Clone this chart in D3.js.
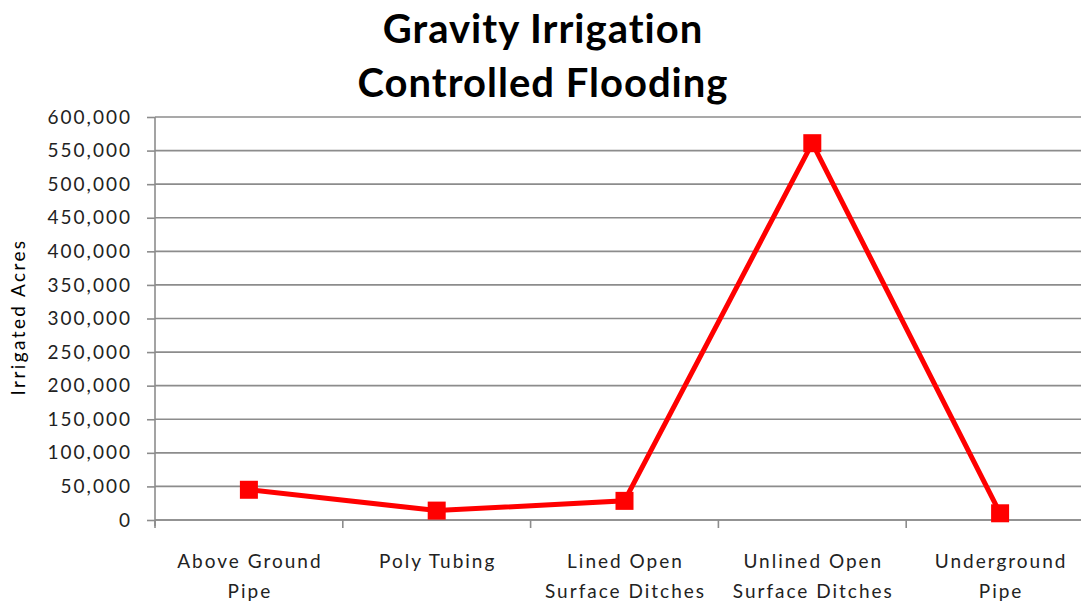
<!DOCTYPE html>
<html><head><meta charset="utf-8">
<script src="https://cdn.jsdelivr.net/npm/d3@7"></script>
<style>body{margin:0;background:#fff}svg{display:block}</style>
</head><body>
<svg id="c" width="1081" height="604"></svg>
<script>
const categories = [["Above Ground","Pipe"],["Poly Tubing"],["Lined Open","Surface Ditches"],["Unlined Open","Surface Ditches"],["Underground","Pipe"]];
const values = [45000, 14000, 28500, 561000, 10000];
const yTicks = [0,50000,100000,150000,200000,250000,300000,350000,400000,450000,500000,550000,600000];
const titleLines = ["Gravity Irrigation","Controlled Flooding"];
const yLabel = "Irrigated Acres";

const svg = d3.select("#c");
const L = 155, R = 1094, T = 117, B = 520;
const font = "Lato, 'Open Sans', sans-serif";
const ls = 2;
const x = d3.scaleBand().domain(d3.range(categories.length)).range([L, R]);
const y = d3.scaleLinear().domain([0, 600000]).range([B, T]);

// gridlines
svg.append("g").selectAll("line").data(yTicks).join("line")
  .attr("x1", L).attr("x2", R).attr("y1", d=>y(d)).attr("y2", d=>y(d))
  .attr("stroke", "#8c8c8c").attr("stroke-width", 1.6);

// y axis
const ya = svg.append("g").attr("transform", `translate(${L},0)`)
  .call(d3.axisLeft(y).tickValues(yTicks).tickSize(8).tickPadding(15).tickFormat(d3.format(",")));
ya.select(".domain").attr("stroke", "#8c8c8c").attr("stroke-width", 1.6).attr("d", `M0,${T}V${B+6}`);
ya.selectAll(".tick line").attr("stroke", "#8c8c8c").attr("stroke-width", 1.6);
ya.selectAll(".tick text").attr("font-family", font).attr("font-size", 19).attr("letter-spacing", ls).attr("fill", "#222");

// x axis ticks
const xa = svg.append("g").attr("transform", `translate(0,${B})`);
xa.append("line").attr("x1", L).attr("x2", R).attr("stroke", "#8c8c8c").attr("stroke-width", 1.6);
xa.selectAll("line.t").data(d3.range(categories.length+1)).join("line").attr("class","t")
  .attr("x1", d=> d<categories.length ? x(d) : R).attr("x2", d=> d<categories.length ? x(d) : R)
  .attr("y1", 0).attr("y2", 8).attr("stroke", "#8c8c8c").attr("stroke-width", 1.6);
xa.selectAll("text").data(categories).join("text")
  .attr("text-anchor", "middle").attr("font-family", font).attr("font-size", 19)
  .attr("letter-spacing", ls).attr("fill", "#222")
  .each(function(d,i){
    const t = d3.select(this);
    d.forEach((s,j)=> t.append("tspan").attr("x", x(i)+x.bandwidth()/2 + ls/2).attr("y", 48 + j*30).text(s));
  });

// line
const line = d3.line().x((d,i)=>x(i)+x.bandwidth()/2).y(d=>y(d));
svg.append("path").datum(values).attr("d", line).attr("fill","none")
  .attr("stroke","#ff0000").attr("stroke-width",5).attr("stroke-linejoin","miter");
svg.append("g").selectAll("rect").data(values).join("rect")
  .attr("x",(d,i)=>x(i)+x.bandwidth()/2-9).attr("y",d=>y(d)-9)
  .attr("width",18).attr("height",18).attr("fill","#ff0000");

// title
svg.append("text").attr("text-anchor","middle").attr("font-family",font).attr("font-weight","bold")
  .attr("font-size",40).attr("letter-spacing",1).attr("fill","#000")
  .selectAll("tspan").data(titleLines).join("tspan").attr("x",543).attr("y",(d,i)=>43+i*54).text(d=>d);

// y label
svg.append("text").attr("transform","translate(25,317) rotate(-90)").attr("text-anchor","middle")
  .attr("font-family",font).attr("font-size",19).attr("letter-spacing",2.4).attr("fill","#000").text(yLabel);
</script>
</body></html>
